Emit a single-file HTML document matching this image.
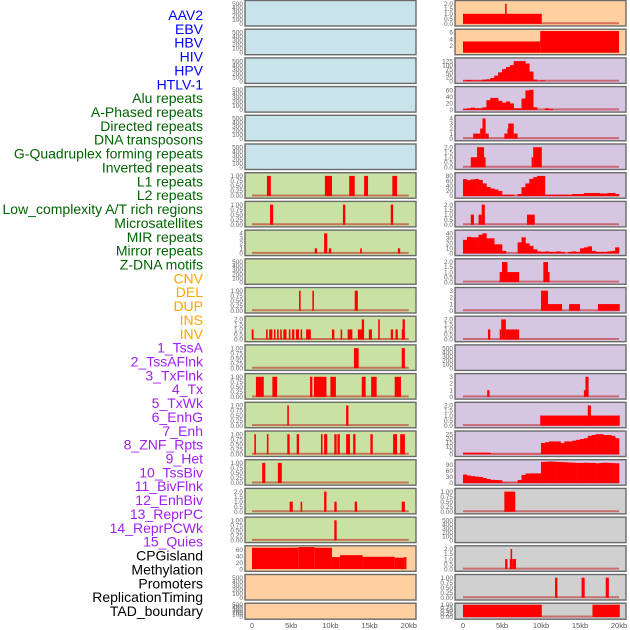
<!DOCTYPE html>
<html><head><meta charset="utf-8"><style>
body{margin:0;background:#fff;width:630px;height:630px;overflow:hidden;font-family:"Liberation Sans",sans-serif}
svg{position:absolute;left:0;top:0}
</style></head><body>
<svg id="chart" width="630" height="630"></svg>
<script>
// ---- labels ----
const labels = ["AAV2","EBV","HBV","HIV","HPV","HTLV-1","Alu repeats","A-Phased repeats","Directed repeats","DNA transposons","G-Quadruplex forming repeats","Inverted repeats","L1 repeats","L2 repeats","Low_complexity A/T rich regions","Microsatellites","MIR repeats","Mirror repeats","Z-DNA motifs","CNV","DEL","DUP","INS","INV","1_TssA","2_TssAFlnk","3_TxFlnk","4_Tx","5_TxWk","6_EnhG","7_Enh","8_ZNF_Rpts","9_Het","10_TssBiv","11_BivFlnk","12_EnhBiv","13_ReprPC","14_ReprPCWk","15_Quies","CPGisland","Methylation","Promoters","ReplicationTiming","TAD_boundary"];
const labelGroups = ["v","v","v","v","v","v","r","r","r","r","r","r","r","r","r","r","r","r","r","s","s","s","s","s","c","c","c","c","c","c","c","c","c","c","c","c","c","c","c","o","o","o","o","o"];
const xTickKb = [0,5,10,15,20];
const xTickLabels = ["0","5kb","10kb","15kb","20kb"];

// ---- y-axis tick sets ----
const t500 = [0,100,200,300,400,500];
const t1 = [0,0.25,0.5,0.75,1];
const t1L = ["0.00","0.25","0.50","0.75","1.00"];
const t2 = [0,0.5,1,1.5,2];
const t2L = ["0.0","0.5","1.0","1.5","2.0"];

// ---- segment data: [startKb, endKb, value] ----
const segAlu = [[1.9,2.4,1],[9.3,10.2,1],[12.4,13.1,1],[14.3,14.8,1],[17.9,18.5,1]];
const segAPhased = [[2.3,2.7,1],[11.6,11.9,1],[17.7,18.0,1]];
const segDirected = [[8.0,8.3,1],[9.2,9.6,4],[9.8,10.1,1],[13.8,14.0,1],[18.6,18.9,1]];
const segGQuad = [[6.0,6.2,1],[7.7,7.9,1],[13.1,13.5,1]];
const segInverted = [[-0.04,0.2,1],[1.8,2.0,1],[2.2,2.6,1],[2.8,3.0,1],[3.2,3.4,1],[3.6,3.8,1],[4.0,4.4,1],[4.7,4.9,1],[5.1,5.4,1],[5.6,6.0,1],[6.2,6.4,1],[6.9,7.5,1],[10.2,10.5,1],[11.3,11.5,1],[12.2,12.8,1],[13.5,13.9,1],[13.9,14.0,1],[14.0,14.3,2],[14.9,15.3,1],[16.1,16.3,2],[17.7,18.0,1],[18.3,18.6,1],[19.1,19.2,1],[19.2,19.5,2]];
const segL1 = [[13.0,13.6,1],[19.1,19.5,1]];
const segL2 = [[0.5,1.5,1],[2.6,3.2,1],[7.4,7.7,1],[7.9,9.5,1],[10.0,10.7,1],[14.0,14.5,1],[15.2,15.9,1],[18.2,19.0,1]];
const segLowComplex = [[4.5,4.7,1],[12.0,12.3,1]];
const segMicrosat = [[0.3,0.5,1],[1.9,2.1,1],[4.5,4.8,1],[5.7,6.0,1],[8.8,9.0,1],[9.2,9.6,1],[10.5,10.8,1],[10.9,11.2,1],[12.0,12.5,1],[12.9,13.2,1],[15.1,15.4,1],[18.0,18.5,1],[18.9,19.2,1],[19.2,19.5,1]];
const segMIR = [[1.3,1.7,1],[3.3,3.8,1]];
const segMirror = [[4.8,5.2,1],[6.2,6.4,1],[9.2,9.5,2],[10.5,10.8,1],[13.1,13.4,1],[19.1,19.5,1]];
const segZDNA = [[10.5,10.8,1]];
const segCNV = [[0,5.9,66],[5.9,8.0,68],[8.0,10.2,66],[10.2,11.2,37],[11.2,14.1,43],[14.1,18.2,38],[18.2,19.4,35],[19.4,19.7,37]];
const segINS = [[0,10.1,1],[5.4,5.6,2]];
const segINV = [[0,9.9,3.3],[9.9,20,6.4]];
const segTxFlnk = [[1.3,2.2,1],[2.2,2.5,2],[2.5,2.9,4],[2.9,3.3,1],[5.3,5.7,1],[5.7,5.8,2],[5.8,6.5,3],[6.5,7.0,1]];
const segTx = [[1.0,1.8,1],[1.8,2.7,2],[2.7,2.9,1],[8.8,9.0,1],[9.0,10.1,2]];
const segEnhG = [[1.0,1.4,1],[2.0,2.4,1],[2.4,2.8,2],[8.2,9.2,1]];
const segZNF = [[4.7,5.0,1],[5.0,5.7,2],[5.7,7.2,1],[10.3,10.9,2],[10.9,11.1,1]];
const segHet = [[10.0,10.9,3],[10.9,12.7,1],[13.6,15.0,1],[17.3,20.1,1]];
const segTssBiv = [[3.2,3.5,1],[4.7,4.9,1],[4.9,5.5,2],[5.5,7.2,1]];
const segEnhBiv = [[3.1,3.4,1],[15.5,15.7,1],[15.7,16.1,3]];
const segReprPC = [[9.9,20.1,1],[16.0,16.4,2]];
const segCPG = [[5.3,6.7,1]];
const segPromoters = [[5.4,5.7,1],[6.0,6.1,1],[6.1,6.3,2],[6.3,6.8,1]];
const segReplication = [[11.8,12.1,1],[15.2,15.6,1],[18.3,18.7,1]];
const segTAD = [[0,10.1,1],[16.6,20.1,1]];

// ---- binned data (0.5kb bins from 0 to 20kb) ----
const binTssA = [5,8,5,5,5,10,12,20,35,55,75,88,100,125,125,125,110,60,10,3,5,0,0,0,0,0,0,0,0,0,0,0,0,0,0,0,0,0,0,0];
const binTssAFlnk = [3,5,7,5,5,8,30,37,37,28,22,26,20,5,5,35,60,62,8,0,0,5,3,0,0,0,0,0,0,0,0,0,0,0,0,0,0,0,0,0];
const binTxWk = [67,63,66,68,64,50,36,30,26,20,5,5,5,0,8,35,50,68,75,80,80,5,5,5,5,5,5,5,8,8,8,12,12,12,12,10,10,12,12,8];
const binEnh = [27,33,32,32,37,40,30,30,18,18,5,0,0,0,22,32,20,15,8,4,3,4,3,3,4,3,0,3,4,3,10,12,14,5,3,3,3,4,5,12];
const binReprPCWk = [2,2,2,2,2,2,2,0.5,0.5,0.5,0.5,0.5,0.5,0.5,0.5,0.5,0.5,0.5,0.5,0.5,14,15,16,16,16,14,16,16,17,18,19,20,23,24,25,25,24,24,23,20];
const binQuies = [42,37,34,32,30,25,20,16,15,14,3,2,2,2,15,40,47,48,48,48,105,106,107,106,105,104,103,102,101,100,100,101,100,100,98,100,101,100,99,98];

const BG = {blue:"#c9e3eb",green:"#c9e1a3",orange:"#ffd09f",purple:"#d6c6e2",grey:"#d0d0d0"};
const leftPanels = [
 {n:"aav2",bg:"blue",max:500,ticks:t500},{n:"ebv",bg:"blue",max:500,ticks:t500},{n:"hbv",bg:"blue",max:500,ticks:t500},
 {n:"hiv",bg:"blue",max:500,ticks:t500},{n:"hpv",bg:"blue",max:500,ticks:t500},{n:"htlv1",bg:"blue",max:500,ticks:t500},
 {n:"alu",bg:"green",max:1,ticks:t1,tl:t1L,seg:segAlu},{n:"a-phased",bg:"green",max:1,ticks:t1,tl:t1L,seg:segAPhased},
 {n:"directed",bg:"green",max:4,ticks:[0,1,2,3,4],seg:segDirected},{n:"dna-transposons",bg:"green",max:500,ticks:t500},
 {n:"g-quadruplex",bg:"green",max:1,ticks:t1,tl:t1L,seg:segGQuad},{n:"inverted",bg:"green",max:2,ticks:t2,tl:t2L,seg:segInverted},
 {n:"l1",bg:"green",max:1,ticks:t1,tl:t1L,seg:segL1},{n:"l2",bg:"green",max:1,ticks:t1,tl:t1L,seg:segL2},
 {n:"low-complexity",bg:"green",max:1,ticks:t1,tl:t1L,seg:segLowComplex},{n:"microsatellites",bg:"green",max:1,ticks:t1,tl:t1L,seg:segMicrosat},
 {n:"mir",bg:"green",max:1,ticks:t1,tl:t1L,seg:segMIR},{n:"mirror",bg:"green",max:2,ticks:t2,tl:t2L,seg:segMirror},
 {n:"z-dna",bg:"green",max:1,ticks:t1,tl:t1L,seg:segZDNA},
 {n:"cnv",bg:"orange",max:62,ticks:[0,20,40,60],seg:segCNV,noBase:true},{n:"del",bg:"orange",max:500,ticks:t500},{n:"dup",bg:"orange",max:500,ticks:t500}
];
const rightPanels = [
 {n:"ins",bg:"orange",max:2,ticks:t2,tl:t2L,seg:segINS},{n:"inv",bg:"orange",max:6,ticks:[2,4,6],seg:segINV},
 {n:"tssa",bg:"purple",max:125,ticks:[0,25,50,75,100,125],bin:binTssA},{n:"tssaflnk",bg:"purple",max:62,ticks:[0,20,40,60],bin:binTssAFlnk},
 {n:"txflnk",bg:"purple",max:4,ticks:[0,1,2,3,4],seg:segTxFlnk},{n:"tx",bg:"purple",max:2,ticks:t2,tl:t2L,seg:segTx},
 {n:"txwk",bg:"purple",max:80,ticks:[0,20,40,60,80],bin:binTxWk},{n:"enhg",bg:"purple",max:2,ticks:t2,tl:t2L,seg:segEnhG},
 {n:"enh",bg:"purple",max:40,ticks:[0,10,20,30,40],bin:binEnh},{n:"znf",bg:"purple",max:2,ticks:t2,tl:t2L,seg:segZNF},
 {n:"het",bg:"purple",max:3,ticks:[0,1,2,3],seg:segHet},{n:"tssbiv",bg:"purple",max:2,ticks:t2,tl:t2L,seg:segTssBiv},
 {n:"bivflnk",bg:"purple",max:500,ticks:t500},{n:"enhbiv",bg:"purple",max:3,ticks:[0,1,2,3],seg:segEnhBiv},
 {n:"reprpc",bg:"purple",max:2,ticks:t2,tl:t2L,seg:segReprPC},{n:"reprpcwk",bg:"purple",max:25,ticks:[0,5,10,15,20,25],bin:binReprPCWk},
 {n:"quies",bg:"purple",max:100,ticks:[0,30,60,90],bin:binQuies},
 {n:"cpg",bg:"grey",max:1,ticks:t1,tl:t1L,seg:segCPG},{n:"methylation",bg:"grey",max:500,ticks:t500},
 {n:"promoters",bg:"grey",max:2,ticks:t2,tl:t2L,seg:segPromoters},{n:"replication",bg:"grey",max:1,ticks:t1,tl:t1L,seg:segReplication},
 {n:"tad",bg:"grey",max:1,ticks:t1,tl:t1L,seg:segTAD}
];

const NS="http://www.w3.org/2000/svg";
const svg=document.getElementById('chart');
function mk(tag,attrs,parent){const e=document.createElementNS(NS,tag);for(const k in attrs)e.setAttribute(k,attrs[k]);(parent||svg).appendChild(e);return e;}

const groupColor={v:"#0000ff",r:"#006400",s:"#ffa500",c:"#a020f0",o:"#000000"};
labels.forEach((t,i)=>{
  const e=mk('text',{x:203,y:15+i*13.86+5,'text-anchor':'end','font-size':14,fill:groupColor[labelGroups[i]]});
  e.textContent=t;
  
  
});

function drawColumn(panels,x0,x1,kb0,kbScale,side){
  const xs=kb=>kb0+kb*kbScale;
  panels.forEach((p,i)=>{
    const top=i*28.7+0.5;
    const h=(i===21)?16:25.5;
    const bot=top+h;
    const g=mk('g',{});
    
    
    mk('rect',{x:x0,y:top,width:x1-x0,height:h,fill:BG[p.bg],stroke:"#6a6a6a",'stroke-width':1.4},g);
    const y0=bot-2.2, yTop=top+(i===21?1.5:3.2);
    const ys=v=>y0-(v/p.max)*(y0-yTop);
    p.ticks.forEach((tv,k)=>{
      const e=mk('text',{x:x0-2,y:ys(tv)+2.2,'text-anchor':'end','font-size':6.5,fill:"#666"},g);
      e.textContent=p.tl?p.tl[k]:String(tv);
      
      
    });
    if(p.seg||p.bin){
      if(!p.noBase) {
        const b=mk('line',{x1:xs(0),x2:xs(20),y1:y0-0.5,y2:y0-0.5,stroke:"rgba(190,30,30,0.55)",'stroke-width':2},g);
        
        
      }
      if(p.seg) p.seg.forEach(s=>{
        const r=mk('rect',{x:xs(s[0]),y:ys(s[2]),width:Math.max(1.2,xs(s[1])-xs(s[0])),height:y0-ys(s[2]),fill:"#ff0000"},g);
        
        
      });
      if(p.bin) p.bin.forEach((v,k)=>{
        if(v<=0) return;
        const r=mk('rect',{x:xs(k*0.5),y:ys(v),width:xs(0.5)-xs(0)+0.3,height:y0-ys(v),fill:"#ff0000"},g);
        
        
      });
    }
  });
  xTickKb.forEach((kb,k)=>{
    const e=mk('text',{x:xs(kb),y:628,'text-anchor':'middle','font-size':7.5,fill:"#555"});
    e.textContent=xTickLabels[k];
    
    
  });
}
drawColumn(leftPanels,245,416,252,7.84,'left');
drawColumn(rightPanels,455,626,463,7.8,'right');
</script>
</body></html>
